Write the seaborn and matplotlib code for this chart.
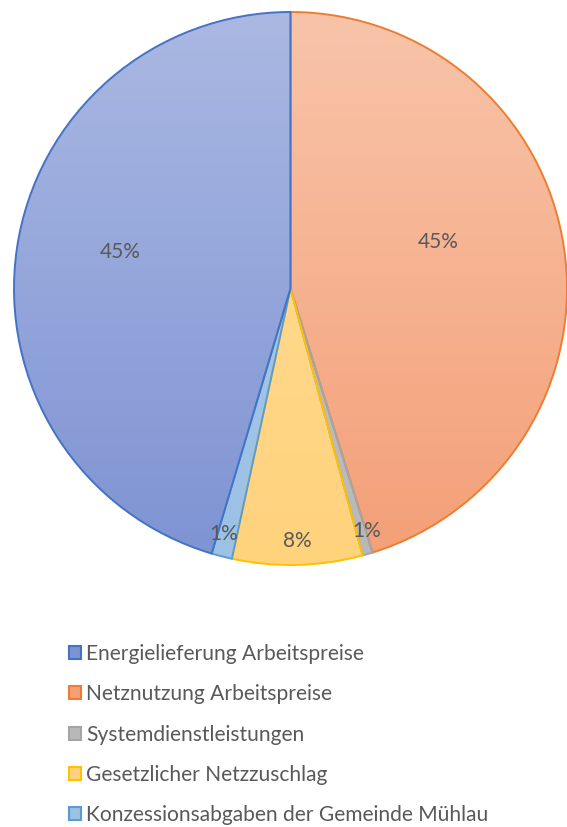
import numpy as np
import matplotlib
matplotlib.use("Agg")
import matplotlib.pyplot as plt
import seaborn as sns
from matplotlib.patches import Patch
from matplotlib.colors import LinearSegmentedColormap

sns.set_theme(style="white")
plt.rcParams['font.family'] = ['Lato', 'DejaVu Sans']

# data (clockwise from 12 o'clock)
categories = ["Netznutzung Arbeitspreise", "Systemdienstleistungen",
              "Gesetzlicher Netzzuschlag", "Konzessionsabgaben der Gemeinde Mühlau",
              "Energielieferung Arbeitspreise"]
values = [45.2, 0.6, 7.6, 1.2, 45.4]
legend_order = ["Energielieferung Arbeitspreise", "Netznutzung Arbeitspreise",
                "Systemdienstleistungen", "Gesetzlicher Netzzuschlag",
                "Konzessionsabgaben der Gemeinde Mühlau"]

# styles
edge_cols = {"Energielieferung Arbeitspreise": "#4472C4",
             "Netznutzung Arbeitspreise": "#ED7D31",
             "Systemdienstleistungen": "#A5A5A5",
             "Gesetzlicher Netzzuschlag": "#FFC000",
             "Konzessionsabgaben der Gemeinde Mühlau": "#5B9BD5"}
grad_cols = {"Energielieferung Arbeitspreise": ("#AAB8E2", "#7E93D3"),
             "Netznutzung Arbeitspreise": ("#F8C4A9", "#F49F77"),
             "Systemdienstleistungen": ("#C8C8C8", "#B8B8B8"),
             "Gesetzlicher Netzzuschlag": ("#FFDF9A", "#FFD27C"),
             "Konzessionsabgaben der Gemeinde Mühlau": ("#A9CAEA", "#9BC1E5")}
# (angle offset in degrees ccw, radius fraction)
label_style = {"Energielieferung Arbeitspreise": (-3.8, 0.63),
               "Netznutzung Arbeitspreise": (8.7, 0.56),
               "Systemdienstleistungen": (1.2, 0.92),
               "Gesetzlicher Netzzuschlag": (0, 0.915),
               "Konzessionsabgaben der Gemeinde Mühlau": (-0.9, 0.92)}

fig = plt.figure(figsize=(5.67, 8.27), dpi=100)
ax = fig.add_axes([14/567, 1 - 565/827, 553/567, 553/827])
ax.set_aspect('equal')

wedges, _ = ax.pie(values, startangle=90, counterclock=False,
                   colors=[grad_cols[c][1] for c in categories],
                   wedgeprops=dict(linewidth=1.4))

total = sum(values)
for w, cat, v in zip(wedges, categories, values):
    w.set_edgecolor(edge_cols[cat])
    top, bot = grad_cols[cat]
    cmap = LinearSegmentedColormap.from_list("g", [bot, top])
    grad = np.linspace(0, 1, 256).reshape(-1, 1)
    im = ax.imshow(grad, cmap=cmap, extent=[-1, 1, -1, 1], origin='lower',
                   aspect='auto', zorder=0.5)
    im.set_clip_path(w)
    w.set_facecolor('none')
    w.set_zorder(2)
    mid = np.deg2rad((w.theta1 + w.theta2) / 2 + label_style[cat][0])
    r = label_style[cat][1]
    ax.text(r * np.cos(mid), r * np.sin(mid), f"{v / total * 100:.0f}%",
            ha='center', va='center', fontsize=15, color='#595959', zorder=5)

ax.set_xlim(-1.0, 1.0)
ax.set_ylim(-1.0, 1.0)
ax.axis('off')

handles = []
for cat in legend_order:
    handles.append(Patch(facecolor=grad_cols[cat][1], edgecolor=edge_cols[cat],
                         linewidth=1.5, label=cat))
leg = fig.legend(handles=handles, loc='upper left',
                 bbox_to_anchor=(69/567, 1 - 644/827), frameon=False,
                 fontsize=15.1, labelcolor='#595959', handlelength=0.58,
                 handleheight=0.58, handletextpad=0.23, labelspacing=0.97,
                 borderaxespad=0, borderpad=0)

fig.savefig("out.png", dpi=100)
